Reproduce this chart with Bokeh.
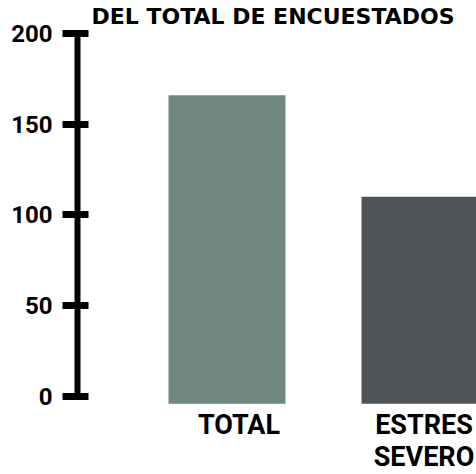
from bokeh.plotting import figure
from bokeh.models import Range1d, LinearAxis, FixedTicker, ColumnDataSource
from bokeh.core.properties import value
from bokeh.embed import file_html
from bokeh.resources import INLINE

categories = ["TOTAL", "ESTRES\nSEVERO"]
counts = [166, 110]
bar_colors = ["#6f877e", "#4f5457"]
y_ticks = [0, 50, 100, 150, 200]
title_text = "DEL TOTAL DE ENCUESTADOS"

FONT = "Roboto"

xs = list(range(len(categories)))
src = ColumnDataSource(dict(x=xs, top=counts, color=bar_colors, label=categories,
                            base=[0] * len(xs), xoff=[12, 4]))

p = figure(width=476, height=474, output_backend="svg", toolbar_location=None,
           x_range=Range1d(-0.7746, 1.2927), y_range=Range1d(-42.98, 218.18),
           y_axis_location=None, x_axis_location=None,
           min_border_left=77, min_border_right=0, min_border_top=0, min_border_bottom=0)
p.outline_line_color = None
p.xgrid.visible = False
p.ygrid.visible = False
p.background_fill_color = "white"
p.border_fill_color = "white"

p.vbar(x="x", top="top", bottom=-4, width=0.606, fill_color="color", line_color=None, source=src)

yaxis = LinearAxis(ticker=FixedTicker(ticks=y_ticks), bounds=(0, 200))
yaxis.axis_line_width = 6
yaxis.axis_line_color = "black"
yaxis.major_tick_line_width = 7
yaxis.major_tick_line_color = "black"
yaxis.major_tick_out = 15
yaxis.major_tick_in = 11
yaxis.minor_tick_line_color = None
yaxis.major_label_standoff = 10
yaxis.major_label_text_font = FONT
yaxis.major_label_text_font_style = "bold"
yaxis.major_label_text_font_size = "24px"
yaxis.major_label_text_color = "black"
p.add_layout(yaxis, "left")

p.text(x="x", y="base", text="label", source=src, x_offset="xoff", y_offset=13,
       text_align="center", text_baseline="top",
       text_font=value(FONT), text_font_style="bold", text_font_size="27px",
       text_line_height=1.0, text_color="black")

p.text(x=[0.2384], y=[209.4], text=[title_text], text_align="center",
       text_baseline="alphabetic", text_font=value("DejaVu Sans"),
       text_font_style="bold", text_font_size="22px", text_color="black")

open("out.html", "w").write(file_html(p, INLINE))
